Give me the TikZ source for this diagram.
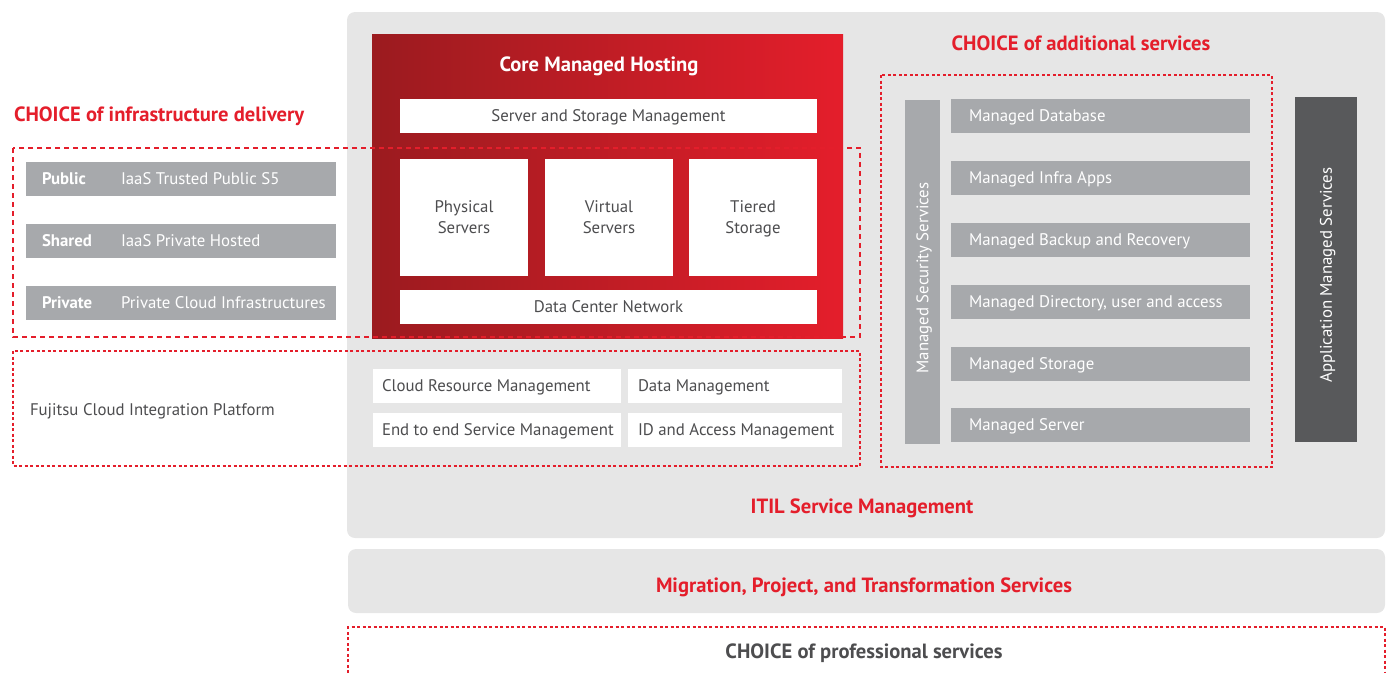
\documentclass[tikz,border=0pt]{standalone}
\usepackage{fontspec}
\setmainfont{PT Sans}
\definecolor{fred}{RGB}{228,30,43}
\definecolor{fdark}{RGB}{155,27,31}
\definecolor{panel}{RGB}{230,230,230}
\definecolor{bar}{RGB}{167,169,172}
\definecolor{darkbar}{RGB}{88,89,91}
\definecolor{txt}{RGB}{77,77,79}
\begin{document}
\begin{tikzpicture}[x=1pt,y=-1pt,
  every node/.style={inner sep=0pt,outer sep=0pt},
  panelbox/.style={anchor=north west,fill=panel,rounded corners=8pt},
  whitebox/.style={anchor=north west,fill=white},
  graybar/.style={anchor=north west,fill=bar},
  bigfont/.style={font=\bfseries\fontsize{20.6}{24}\selectfont,text height=14.5pt,text depth=0pt},
  smallfont/.style={font=\fontsize{16.8}{21}\selectfont,text height=11.8pt,text depth=0pt},
  redtitle/.style={text=fred,bigfont},
  bodytxt/.style={text=txt,smallfont},
  twoline/.style={text=txt,font=\fontsize{16.8}{21}\selectfont,align=center,anchor=base},
  bartxt/.style={text=white,smallfont},
  barbold/.style={text=white,smallfont,font=\bfseries\fontsize{16.8}{21}\selectfont},
  dashline/.style={draw=fred,line width=2pt,dash pattern=on 5pt off 4pt},
  dotline/.style={draw=fred,line width=2pt,dash pattern=on 3pt off 2.5pt}
]
\useasboundingbox (0,0) rectangle (1389,673);
% panels
\node[panelbox,minimum width=1038pt,minimum height=526pt] (itil) at (347,12) {};
\node[panelbox,minimum width=1037pt,minimum height=64pt] (mig) at (348,549) {};
\node[redtitle] (itilt) at (862,506) {ITIL Service Management};
\node[redtitle] (migt) at (864,585) {Migration, Project, and Transformation Services};
% professional services
\draw[dotline] (348,673) -- (348,627) -- (1385,627) -- (1385,673);
\node[text=txt,bigfont] (prof) at (864,651) {CHOICE of professional services};
% core managed hosting
\node[anchor=north west,minimum width=471pt,minimum height=304pt,left color=fdark,right color=fred] (core) at (372,34) {};
\node[text=white,bigfont] (coret) at (599,64) {Core Managed Hosting};
\node[whitebox,minimum width=417pt,minimum height=34pt] (ssm) at (400,99) {};
\node[bodytxt] at (ssm.center) {Server and Storage Management};
\node[whitebox,minimum width=128pt,minimum height=117pt] (phys) at (400,159) {};
\node[whitebox,minimum width=128pt,minimum height=117pt] (virt) at (545,159) {};
\node[whitebox,minimum width=128pt,minimum height=117pt] (tier) at (689,159) {};
\node[twoline] at (464,233) {Physical\\Servers};
\node[twoline] at (609,233) {Virtual\\Servers};
\node[twoline] at (753,233) {Tiered\\Storage};
\node[whitebox,minimum width=417pt,minimum height=34pt] (dcn) at (400,290) {};
\node[bodytxt] at (dcn.center) {Data Center Network};
% infrastructure delivery
\node[redtitle,anchor=west] (infrat) at (14,114) {CHOICE of infrastructure delivery};
\draw[dashline] (13,148) rectangle (860,337);
\node[graybar,minimum width=310pt,minimum height=34pt] (pub) at (26,162) {};
\node[graybar,minimum width=310pt,minimum height=34pt] (sha) at (26,224) {};
\node[graybar,minimum width=310pt,minimum height=34pt] (pri) at (26,286) {};
\node[barbold,anchor=west] at ([xshift=16pt]pub.west) {Public};
\node[barbold,anchor=west] at ([xshift=16pt]sha.west) {Shared};
\node[barbold,anchor=west] at ([xshift=16pt]pri.west) {Private};
\node[bartxt,anchor=west] at ([xshift=95pt]pub.west) {IaaS Trusted Public S5};
\node[bartxt,anchor=west] at ([xshift=95pt]sha.west) {IaaS Private Hosted};
\node[bartxt,anchor=west] at ([xshift=95pt]pri.west) {Private Cloud Infrastructures};
% integration platform
\draw[dotline] (13,351) rectangle (860,466);
\node[bodytxt,anchor=west] (fcip) at (30,410) {Fujitsu Cloud Integration Platform};
\node[whitebox,minimum width=248pt,minimum height=34pt] (crm) at (373,369) {};
\node[whitebox,minimum width=214pt,minimum height=34pt] (dm) at (628,369) {};
\node[whitebox,minimum width=248pt,minimum height=34pt] (e2e) at (373,413) {};
\node[whitebox,minimum width=214pt,minimum height=34pt] (idam) at (628,413) {};
\node[bodytxt,anchor=west] at ([xshift=9pt]crm.west) {Cloud Resource Management};
\node[bodytxt,anchor=west] at ([xshift=10pt]dm.west) {Data Management};
\node[bodytxt,anchor=west] at ([xshift=9pt]e2e.west) {End to end Service Management};
\node[bodytxt,anchor=west] at ([xshift=10pt]idam.west) {ID and Access Management};
% additional services
\node[redtitle] (addt) at (1081,43) {CHOICE of additional services};
\draw[dotline] (881,75) rectangle (1272,467);
\node[graybar,minimum width=35pt,minimum height=344pt] (sec) at (905,100) {};
\node[bartxt,rotate=90] at ([yshift=-6pt]sec.center) {Managed Security Services};
\foreach \y/\n/\t in {99/mdb/Managed Database,161/mia/Managed Infra Apps,223/mbr/Managed Backup and Recovery,285/mdua/{Managed Directory, user and access},347/mst/Managed Storage,408/msv/Managed Server}{
  \node[graybar,minimum width=299pt,minimum height=34pt] (\n) at (951,\y) {};
  \node[bartxt,anchor=west] at ([xshift=18pt]\n.west) {\t};
}
\node[anchor=north west,fill=darkbar,minimum width=62pt,minimum height=345pt] (ams) at (1295,97) {};
\node[bartxt,rotate=90] at ([yshift=-5.5pt]ams.center) {Application Managed Services};
\end{tikzpicture}
\end{document}
